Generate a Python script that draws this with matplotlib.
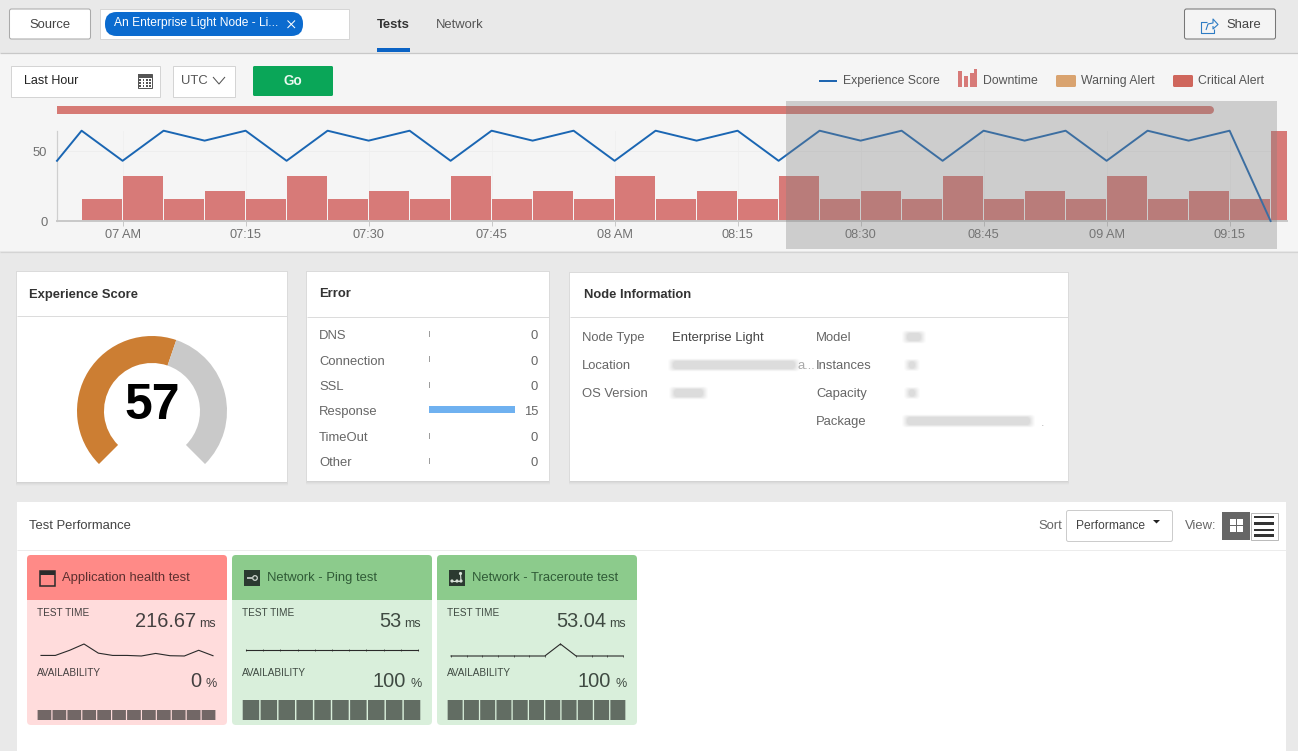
import numpy as np
import matplotlib
matplotlib.use("Agg")
import matplotlib.pyplot as plt
from matplotlib.patches import Rectangle, FancyBboxPatch, Circle

plt.rcParams['font.family'] = ['Liberation Sans', 'DejaVu Sans']

# ---------- data ----------
line_minutes = [-8, -5, 0, 5, 10, 15, 20, 25, 30, 35, 40, 45, 50, 55, 60, 65, 70, 75, 80, 85,
                90, 95, 100, 105, 110, 115, 120, 125, 130, 135, 140]
line_scores = [43, 64.5, 43, 64.5, 57.4, 64.5, 43, 64.5, 57.4, 64.5, 43, 64.5, 57.4, 64.5, 43, 64.5,
               57.4, 64.5, 43, 64.5, 57.4, 64.5, 43, 64.5, 57.4, 64.5, 43, 64.5, 57.4, 64.5, 0]
bar_minutes = [-5, 0, 5, 10, 15, 20, 25, 30, 35, 40, 45, 50, 55, 60, 65, 70, 75, 80, 85, 90, 95,
               100, 105, 110, 115, 120, 125, 130, 135, 140]
bar_downtime = [16, 32, 16, 21.4, 16, 32, 16, 21.4, 16, 32, 16, 21.4, 16, 32, 16, 21.4, 16, 32, 16,
                21.4, 16, 32, 16, 21.4, 16, 32, 16, 21.4, 16, 64]
tick_minutes = [0, 15, 30, 45, 60, 75, 90, 105, 120, 135]
tick_labels = ['07 AM', '07:15', '07:30', '07:45', '08 AM', '08:15', '08:30', '08:45', '09 AM', '09:15']
alert_start, alert_end = -8, 133

score_value = 57

error_names = ['DNS', 'Connection', 'SSL', 'Response', 'TimeOut', 'Other']
error_counts = [0, 0, 0, 15, 0, 0]

card_titles = ['Application health test', 'Network - Ping test', 'Network - Traceroute test']
card_times = ['216.67', '53', '53.04']
card_avail = ['0', '100', '100']
spark_app = [210, 210, 228, 250, 218, 210, 210, 208, 217, 209, 208, 228, 209]
spark_ping = [53] * 11
spark_trace = [53, 53, 53, 53, 53, 53, 53, 53.44, 53, 53, 53, 53]
avail_app = [0] * 12
avail_ping = [100] * 10
avail_trace = [100] * 11

# ---------- helpers ----------
W, H = 1298, 751
fig = plt.figure(figsize=(W / 100, H / 100), dpi=100, facecolor='#e9e9e9')


def px_axes(x0, y0, x1, y1, z=2):
    a = fig.add_axes([x0 / W, 1 - y1 / H, (x1 - x0) / W, (y1 - y0) / H], zorder=z)
    a.patch.set_alpha(0)
    return a


def canvas(z):
    a = fig.add_axes([0, 0, 1, 1], zorder=z)
    a.set_xlim(0, W)
    a.set_ylim(H, 0)
    a.axis('off')
    a.patch.set_alpha(0)
    return a


bg = canvas(0)
top = canvas(5)


def R(x0, y0, x1, y1, fc, ec='none', lw=0, a=None, ax=None, z=1):
    (ax or bg).add_patch(Rectangle((x0, y0), x1 - x0, y1 - y0, fc=fc, ec=ec, lw=lw, alpha=a, zorder=z))


def RR(x0, y0, x1, y1, r, fc, ec='none', lw=0, a=None, z=1):
    bg.add_patch(FancyBboxPatch((x0 + r, y0 + r), x1 - x0 - 2 * r, y1 - y0 - 2 * r,
                                boxstyle=f'round,pad={r},rounding_size={r}',
                                fc=fc, ec=ec, lw=lw, alpha=a, zorder=z))


def L(xs, ys, c, lw=0.72, z=3, ax=None):
    (ax or bg).plot(xs, ys, color=c, lw=lw, zorder=z, solid_capstyle='butt')


def T(x, y, s, px=12.5, c='#555555', ha='left', w='normal', ax=None, z=6):
    (ax or bg).text(x, y + 1.2, s, fontsize=px * 0.72, color=c, ha=ha, va='center', fontweight=w, zorder=z)


def card(x0, y0, x1, y1, line_y):
    for i, al in zip((4, 3, 2, 1), (0.012, 0.018, 0.025, 0.035)):
        R(x0 - i / 3, y0 - i / 3, x1 + i / 3, y1 + i, '#000000', a=al, z=1)
    R(x0, y0, x1, y1, 'white', z=2)
    L([x0, x1], [line_y, line_y], '#dcdcdc', 0.72)


def blur(x0, x1, yc, h=6, c='#8a8a8a'):
    for grow, al in zip((5, 4, 3, 2, 1, 0), (0.03, 0.04, 0.05, 0.06, 0.07, 0.08)):
        RR(x0 - grow, yc - h - grow / 2, x1 + grow, yc + h + grow / 2, h, c, a=al, z=3)


# ---------- page regions ----------
R(0, 0, W, 52, '#e9e9e9')
L([0, W], [52.5, 52.5], '#c8c8c8', 0.9)
R(0, 53, W, 251, '#f5f5f5')
L([0, W], [251.5, 251.5], '#d4d4d4', 0.9)
R(17, 502, 1286, 751, 'white')
L([17, 1286], [549.5, 549.5], '#ececec', 0.72)

# header
RR(9.5, 9, 90.5, 39, 2, 'white', '#aaaaaa', 0.75)
T(50, 24, 'Source', 13, '#444444', 'center')
R(99.5, 9, 348.5, 39, 'white', '#d6d6d6', 0.72)
RR(105, 12, 303, 36, 11.5, '#0b6bcf', z=2)
T(114, 22, 'An Enterprise Light Node - Li...', 12, 'white')
L([287.5, 295], [20.5, 28], 'white', 0.75)
L([287.5, 295], [28, 20.5], 'white', 0.75)
T(377, 24, 'Tests', 13, '#333333', w='bold')
R(377, 48, 410, 52, '#0b63c5', z=2)
T(436, 24, 'Network', 13, '#555555')
RR(1184.5, 9, 1275.5, 39, 2, '#f4f4f4', '#777777', 0.75)
T(1226, 24, 'Share', 13, '#444444')
L([1207, 1201, 1201, 1214, 1214], [22, 22, 33, 33, 29], '#2e7cc4', 0.8)
L([1206, 1208, 1213, 1213, 1218, 1213, 1213], [30, 24, 23, 19, 24.5, 29, 26], '#2e7cc4', 0.8)

# toolbar
R(10.5, 65.5, 159.5, 96.5, 'white', '#d4d4d4', 0.72)
T(24, 80, 'Last Hour', 12.5, '#222222')
R(137.5, 74, 151.5, 88, 'white', '#555555', 0.72, z=3)
R(137.5, 74, 151.5, 77.5, '#555555', z=3)
for gx in (140, 143.5, 147, 150):
    for gy in (80, 83, 86):
        R(gx - 1, gy - 1, gx + 0.6, gy + 0.6, '#555555', z=4)
R(172.5, 65.5, 234.5, 96.5, 'white', '#d4d4d4', 0.72)
T(181, 80, 'UTC', 13, '#555555')
L([213, 219, 225], [77, 84, 77], '#555555', 0.75)
RR(253, 66, 333, 96, 1.5, '#0aa658')
T(293, 80, 'Go', 13.5, '#e9f8ef', 'center', 'bold')

# legend
L([819, 837], [80.5, 80.5], '#1a63b0', 1.4)
T(843, 80, 'Experience Score', 12.2, '#555555')
R(958, 71, 962, 87, '#d77a78', z=3)
R(964, 76, 968, 87, '#d77a78', z=3)
R(970, 73, 974, 87, '#d77a78', z=3)
R(973.5, 69, 977, 87, '#d77a78', z=3)
T(983, 80, 'Downtime', 12.2, '#555555')
RR(1056, 75, 1076, 87, 1.5, '#d9a36f')
T(1081, 80, 'Warning Alert', 12.2, '#555555')
RR(1173, 75, 1193, 87, 1.5, '#cf665c')
T(1198, 80, 'Critical Alert', 12.2, '#555555')

# ---------- main chart ----------
ax = px_axes(57, 102, 1287, 221, 2)
ax.set_xlim(-8, 142)
ax.set_ylim(0, 85)
ax.bar(bar_minutes, bar_downtime, width=4.93, align='edge', color='#d77a78', zorder=2)
ax.plot(line_minutes, line_scores, color='#1a66b3', lw=1.4, zorder=3, clip_on=False)
ax.barh(79, alert_end - alert_start - 0.4, left=alert_start, height=5.7, color='#d67a75', zorder=2)
ax.plot([alert_end - 1, alert_end - 0.4], [79, 79], color='#d67a75', lw=5.76, solid_capstyle='round', zorder=2)
ax.set_xticks(tick_minutes, tick_labels)
ax.set_yticks([0, 50])
ax.tick_params(axis='x', length=3.6, width=0.7, color='#c8c8c8', labelcolor='#707070', labelsize=9.2, pad=2)
ax.tick_params(axis='y', length=0, labelcolor='#707070', labelsize=9.4, pad=7)
for m in tick_minutes:
    ax.plot([m, m], [0, 64.3], color='#f0f0f0', lw=0.7, zorder=1)
ax.plot([-8, 142], [50, 50], color='#eeeeee', lw=0.7, zorder=1)
for s in ('top', 'right'):
    ax.spines[s].set_visible(False)
ax.spines['left'].set_bounds(0, 64.3)
ax.spines['left'].set_color('#cfcfcf')
ax.spines['left'].set_linewidth(0.9)
ax.spines['bottom'].set_color('#c8c8c8')
ax.spines['bottom'].set_linewidth(1.4)

# selection overlay
R(786, 101, 1277, 249, '#808080', a=0.34, ax=top)

# ---------- experience score ----------
card(17, 272, 287, 482, 315.5)
T(29, 294, 'Experience Score', 13, '#333333', w='bold')
g = px_axes(77, 336, 227, 486, 3)
remainder = 100 - score_value
g.pie([score_value, remainder, 100 / 3], colors=['#cc7e33', '#c9c9c9', 'none'], startangle=225,
      counterclock=False, radius=1, wedgeprops=dict(width=27 / 75, linewidth=0))
g.set_xlim(-1, 1)
g.set_ylim(-1, 1)
T(152, 405, str(score_value), 50, '#000000', 'center', 'bold')

# ---------- error ----------
card(307, 272, 549, 481, 316.5)
T(319, 293, 'Error', 13, '#333333', w='bold')
e = px_axes(429, 320.8, 515, 473.2, 3)
e.barh(range(len(error_names)), error_counts, height=0.28, color='#6fb1f0')
for i, v in enumerate(error_counts):
    if v == 0:
        e.plot([0, 0], [i - 0.1, i + 0.1], color='#9a9a9a', lw=0.7, clip_on=False)
e.set_xlim(0, 15)
e.set_ylim(5.5, -0.5)
e.axis('off')
for i, (n, v) in enumerate(zip(error_names, error_counts)):
    yy = 335 + 25.4 * i
    T(319, yy, n, 13, '#666666')
    T(538, yy, str(v), 13, '#666666', 'right')

# ---------- node info ----------
card(570, 273, 1068, 481, 316.5)
T(584, 294, 'Node Information', 13, '#333333', w='bold')
T(582, 336.5, 'Node Type', 13, '#666666')
T(582, 364.5, 'Location', 13, '#666666')
T(582, 392.5, 'OS Version', 13, '#666666')
T(672, 336.5, 'Enterprise Light', 13, '#444444')
T(816, 336.5, 'Model', 13, '#666666')
T(816, 364.5, 'Instances', 13, '#666666')
T(816, 392.5, 'Capacity', 13, '#666666')
T(816, 420.5, 'Package', 13, '#666666')
blur(673, 795, 365, 4)
T(797, 364.5, 'a...', 13, '#aaaaaa')
blur(674, 703, 393, 4)
blur(907, 921, 337, 4)
blur(909, 915, 365, 3.5)
blur(909, 915, 393, 3.5)
blur(907, 1030, 421, 4)
T(1041, 421.5, '.', 13, '#bbbbbb')

# ---------- test performance ----------
T(29, 525, 'Test Performance', 13, '#444444')
T(1038, 525, 'Sort', 13, '#666666')
RR(1066.5, 510.5, 1172.5, 541.5, 2, 'white', '#cccccc', 0.72)
T(1076, 525, 'Performance', 12, '#444444')
bg.fill([1153, 1160, 1156.5], [520, 520, 523.5], color='#222222', lw=0, zorder=4)
T(1185, 525, 'View:', 13, '#666666')
R(1222, 512, 1250, 540, '#666666', z=2)
for sx, sy in ((1230, 519), (1237, 519), (1230, 526), (1237, 526)):
    R(sx, sy, sx + 6, sy + 6, 'white', z=3)
R(1250.5, 512.5, 1277.5, 539.5, 'white', '#bbbbbb', 0.72, z=2)
for ly in (517, 523.5, 530, 535.5):
    R(1254, ly - 1.3, 1274, ly + 1.3, '#333333', z=3)

card_x = [27, 232, 437]
head_col = ['#ff8a87', '#8ccb8c', '#8ccb8c']
body_col = ['#ffdcdc', '#d9efdb', '#d9efdb']
title_col = ['#5c2f2f', '#2f5a36', '#2f5a36']
text_col = ['#444040', '#3f4a42', '#3f4a42']
bar_col = ['#726766', '#626d63', '#626d63']
sparks = [spark_app, spark_ping, spark_trace]
avails = [avail_app, avail_ping, avail_trace]
spark_span = [(41, 213), (246, 418), (451, 623)]

for k, cx in enumerate(card_x):
    RR(cx, 555, cx + 200, 725, 4, body_col[k], z=1)
    RR(cx, 555, cx + 200, 590, 4, head_col[k], z=2)
    R(cx, 575, cx + 200, 600, head_col[k], z=2)
    T(cx + 35, 577, card_titles[k], 13, title_col[k])
    T(cx + 10, 612, 'TEST TIME', 10, text_col[k])
    T(cx + 10, 672, 'AVAILABILITY', 10, text_col[k])
    T(cx + 169, 620, card_times[k], 20, text_col[k], 'right')
    T(cx + 189, 623, 'ms', 12.5, text_col[k], 'right')
    T(cx + 174, 680.5, card_avail[k], 20, text_col[k], 'right')
    T(cx + 190, 683, '%', 12.5, text_col[k], 'right')
    # spark line
    sa = px_axes(spark_span[k][0], 644, spark_span[k][1], 656, 3)
    vals = sparks[k]
    sa.plot(range(len(vals)), vals, color='#2a2a2a', lw=0.8, clip_on=False,
            marker='|' if k else None, ms=1.6, mew=0.5)
    lo, hi = min(vals), max(vals)
    if lo == hi:
        lo, hi = lo - 1, hi + 1
    sa.set_xlim(0, len(vals) - 1)
    sa.set_ylim(lo, hi)
    sa.axis('off')
    # availability bars
    ba = px_axes(cx + 10, 700, cx + 189, 720, 3)
    a_vals = np.array(avails[k], dtype=float)
    n = len(a_vals)
    bars = ba.bar(np.arange(n), np.maximum(a_vals, 50), width=0.92, color=bar_col[k])
    for b in bars:
        b.set_snap(False)
    ba.set_xlim(-0.5, n - 0.5)
    ba.set_ylim(0, 100)
    ba.axis('off')

# card icons
R(39.5, 570.5, 54.5, 585.5, 'none', '#2b2b2b', 1.1, z=4)
R(39.5, 570.5, 54.5, 574.5, '#2b2b2b', z=4)
R(244, 570, 260, 586, '#2b3a30', z=4)
bg.add_patch(Circle((255, 578), 2.3, fc='none', ec='#d0d6d0', lw=0.9, zorder=5))
L([247, 252], [578, 578], '#d0d6d0', 1.2, z=5)
R(449, 570, 465, 586, '#2b3a30', z=4)
for nx, ny in ((452, 581), (457, 581), (461, 581), (460.5, 573.5)):
    bg.add_patch(Circle((nx, ny), 1.6, fc='#d8e2d8', zorder=5))
L([452, 461], [581, 581], '#d8e2d8', 0.8, z=5)
L([461, 460.5], [581, 573.5], '#d8e2d8', 0.8, z=5)

fig.savefig('out.png', dpi=100, facecolor=fig.get_facecolor())
